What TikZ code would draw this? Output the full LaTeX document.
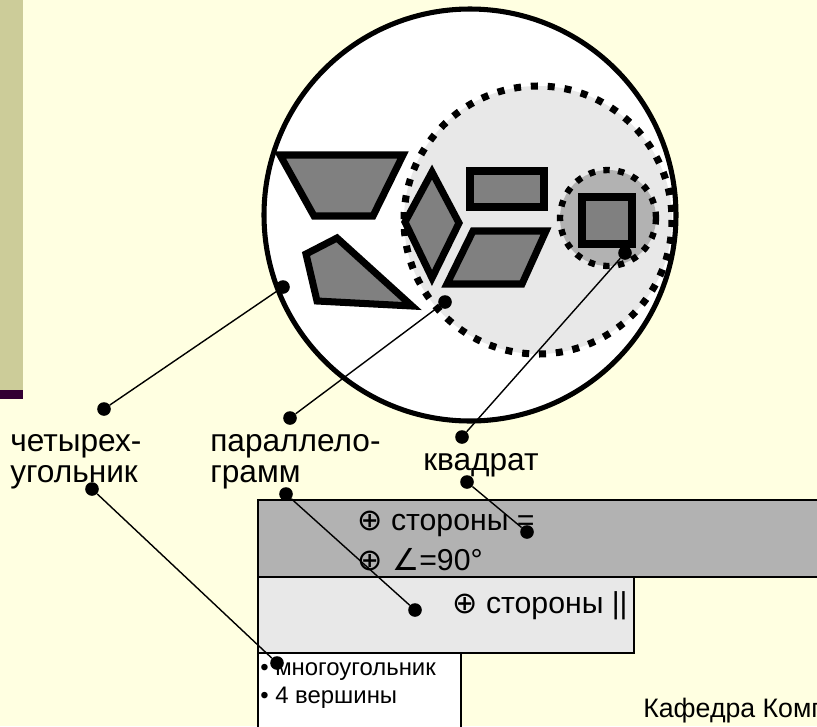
\documentclass[tikz,border=0pt]{standalone}
\usepackage{fontspec}
\setmainfont{Liberation Sans}
\newfontfamily\symfont{DejaVu Sans}
\usetikzlibrary{positioning}
\definecolor{paper}{RGB}{255,255,225}
\definecolor{sidebar}{RGB}{204,204,153}
\definecolor{sidedark}{RGB}{51,0,51}
\definecolor{setmid}{RGB}{178,178,178}
\definecolor{setlight}{RGB}{232,232,232}
\definecolor{figgray}{RGB}{128,128,128}
\tikzset{
    pin/.style = {circle, fill=black, inner sep=0pt, minimum size=0.34cm},
    leader/.style = {line width=1pt, black},
    figure/.style = {line width=5pt, draw=black, fill=figgray, line join=miter},
    outerset/.style = {line width=3.6pt, draw=black, fill=white},
    parset/.style = {line width=5pt, draw=black, fill=setlight, dash pattern=on 5pt off 7pt},
    sqset/.style = {line width=4.5pt, draw=black, fill=setmid, dash pattern=on 4.5pt off 6pt},
    propbox/.style = {line width=1pt, draw=black},
    bigtext/.style = {anchor=base west, inner sep=0pt, font=\fontsize{22.5}{22}\selectfont},
    boxtext/.style = {anchor=base west, inner sep=0pt, font=\fontsize{21.5}{24}\selectfont},
    smalltext/.style = {anchor=base west, inner sep=0pt, font=\fontsize{17}{19}\selectfont}
}
\begin{document}
\begin{tikzpicture}[x=0.025cm, y=-0.025cm]
\useasboundingbox (0,0) rectangle (817,726);
\clip (0,0) rectangle (817,726);
\fill[paper] (0,0) rectangle (817,726);
\fill[sidebar] (0,0) rectangle (23,390);
\fill[sidedark] (0,390) rectangle (23,399);
%
% nested sets
\draw[outerset] (470,215) circle (206);
\draw[parset] (538,220) circle (134);
\draw[sqset] (608,218) circle (48);
%
% figures
\draw[figure] (280,155) -- (403,155) -- (373,216) -- (314,216) -- cycle;
\draw[figure] (306,254) -- (337,238) -- (412,306) -- (317,301) -- cycle;
\draw[figure] (432,172) -- (459,223) -- (432,278) -- (405,222) -- cycle;
\draw[figure] (470,171) rectangle (544,207);
\draw[figure] (473,231) -- (546,231) -- (522,284) -- (447,284) -- cycle;
\draw[figure] (582,197) rectangle (632,244);
%
% property table
\draw[propbox, fill=white] (258,653) rectangle (461,740);
\draw[propbox, fill=setlight] (258,577) rectangle (634,653);
\draw[propbox, fill=setmid] (258,500) rectangle (830,577);
%
\node[bigtext, align=left] at (10,482) (tquad) {четырех-\\угольник};
\node[bigtext, align=left] at (210,482) (tpar) {параллело-\\грамм};
\node[bigtext] at (423,470) (tsq) {квадрат};
\node[boxtext] at (357,530) (psq1) {{\symfont ⊕} стороны =};
\node[boxtext] at (357,570) (psq2) {{\symfont ⊕ ∠}=90°};
\node[boxtext] at (452,613) (ppar) {{\symfont ⊕} стороны ||};
\node[smalltext] at (260,675) (pquad1) {\textbullet\ многоугольник};
\node[smalltext] at (260,703) (pquad2) {\textbullet\ 4 вершины};
\node[smalltext, font=\fontsize{19}{21}\selectfont] at (643,717) (dept) {Кафедра Комп};
%
% pins
\node[pin] at (283,287) (dquad) {};
\node[pin] at (445,302) (dpar) {};
\node[pin] at (625,253) (dsq) {};
\node[pin] at (104,409) (lquad) {};
\node[pin] at (290,418) (lpar) {};
\node[pin] at (462,437) (lsq) {};
\node[pin] at (92,489) (uquad) {};
\node[pin] at (286,494) (upar) {};
\node[pin] at (467,482) (usq) {};
\node[pin] at (277,663) (bquad) {};
\node[pin] at (415,610) (bpar) {};
\node[pin] at (527,532) (bsq) {};
%
\draw[leader] (dquad) -- (lquad);
\draw[leader] (dpar) -- (lpar);
\draw[leader] (dsq) -- (lsq);
\draw[leader] (uquad) -- (bquad);
\draw[leader] (upar) -- (bpar);
\draw[leader] (usq) -- (bsq);
\end{tikzpicture}
\end{document}
